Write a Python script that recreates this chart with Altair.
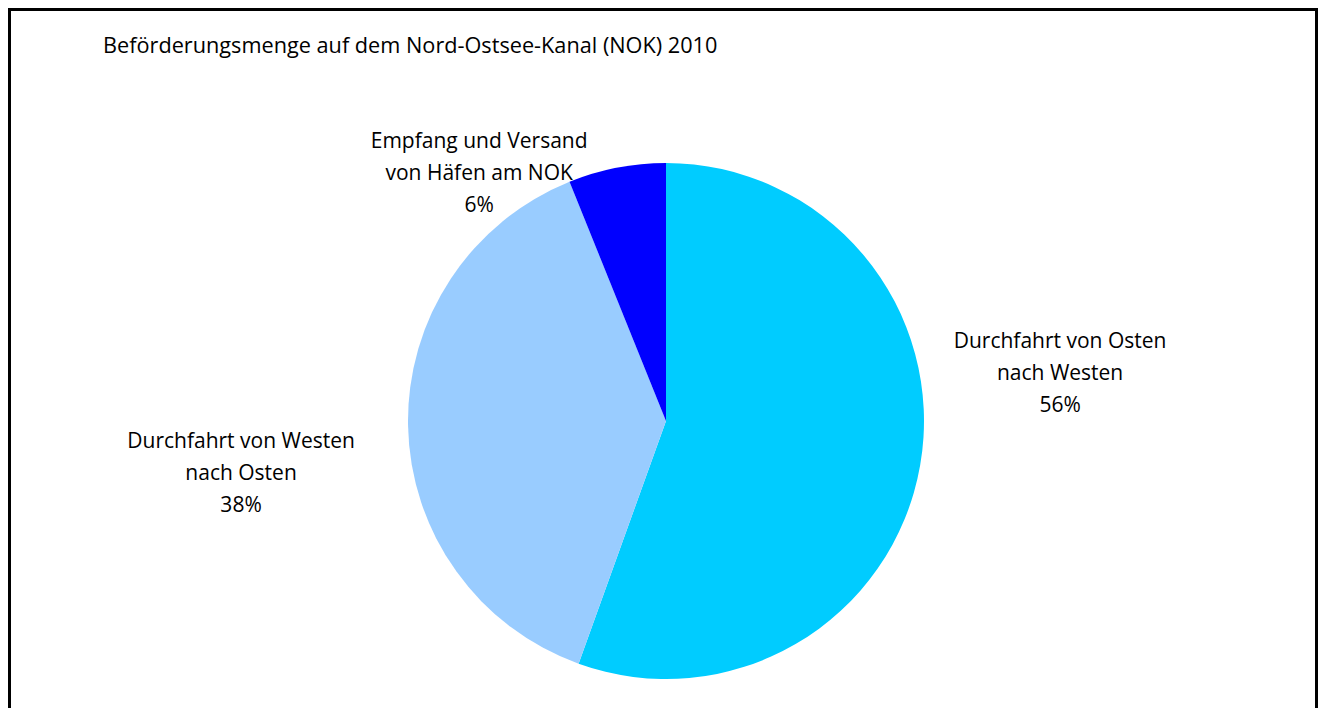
import altair as alt
import pandas as pd

# ---- data ----
categories = [
    "Durchfahrt von Osten nach Westen",
    "Durchfahrt von Westen nach Osten",
    "Empfang und Versand von Häfen am NOK",
]
shares = [55.5, 38.4, 6.1]
label_lines = [
    "Durchfahrt von Osten\nnach Westen",
    "Durchfahrt von Westen\nnach Osten",
    "Empfang und Versand\nvon Häfen am NOK",
]
pct_labels = ["56%", "38%", "6%"]
colors = ["#00CCFF", "#99CCFF", "#0000FF"]
chart_title = "Beförderungsmenge auf dem Nord-Ostsee-Kanal (NOK) 2010"

df = pd.DataFrame({
    "cat": categories,
    "share": shares,
    "order": list(range(len(categories))),
    "label": [l + "\n" + p for l, p in zip(label_lines, pct_labels)],
})

W, H = 1310, 700
CX, CY = 658, 413
R = 258
FONT = "Open Sans"
FS = 21

base = alt.Chart(df).encode(
    theta=alt.Theta("share:Q", stack=True),
    order=alt.Order("order:Q"),
    x=alt.value(CX),
    y=alt.value(CY),
)

pie = base.mark_arc(outerRadius=R).encode(
    color=alt.Color("cat:N", scale=alt.Scale(domain=categories, range=colors), legend=None),
)

offsets = [(69, -136), (-95, 15), (-124, 45)]
label_layers = []
for i, (dx, dy) in enumerate(offsets):
    label_layers.append(
        base.mark_text(
            radius=330, dx=dx, dy=dy, lineBreak="\n", font=FONT, fontSize=FS,
            lineHeight=32, align="center", baseline="middle", color="black",
        ).encode(
            text=alt.condition(f"datum.order == {i}", alt.Text("label:N"), alt.value("")),
        )
    )

title = alt.Chart(pd.DataFrame({"t": [chart_title]})).mark_text(
    font=FONT, fontSize=21.7, align="left", baseline="middle", color="black"
).encode(text="t:N", x=alt.value(95), y=alt.value(38))

frame_df = pd.DataFrame({"k": [0]})
left = alt.Chart(frame_df).mark_rule(color="black", strokeWidth=3).encode(
    x=alt.value(1.5), y=alt.value(0), y2=alt.value(H))
right = alt.Chart(frame_df).mark_rule(color="black", strokeWidth=3).encode(
    x=alt.value(W - 1.5), y=alt.value(0), y2=alt.value(H))
top = alt.Chart(frame_df).mark_rule(color="black", strokeWidth=3).encode(
    x=alt.value(0), x2=alt.value(W), y=alt.value(1.5))

chart = alt.layer(pie, *label_layers, title, left, right, top).properties(
    width=W, height=H, autosize="none", padding=0
).configure_view(stroke=None)

chart.save("out.html", embed_options={"renderer": "svg", "actions": False})
